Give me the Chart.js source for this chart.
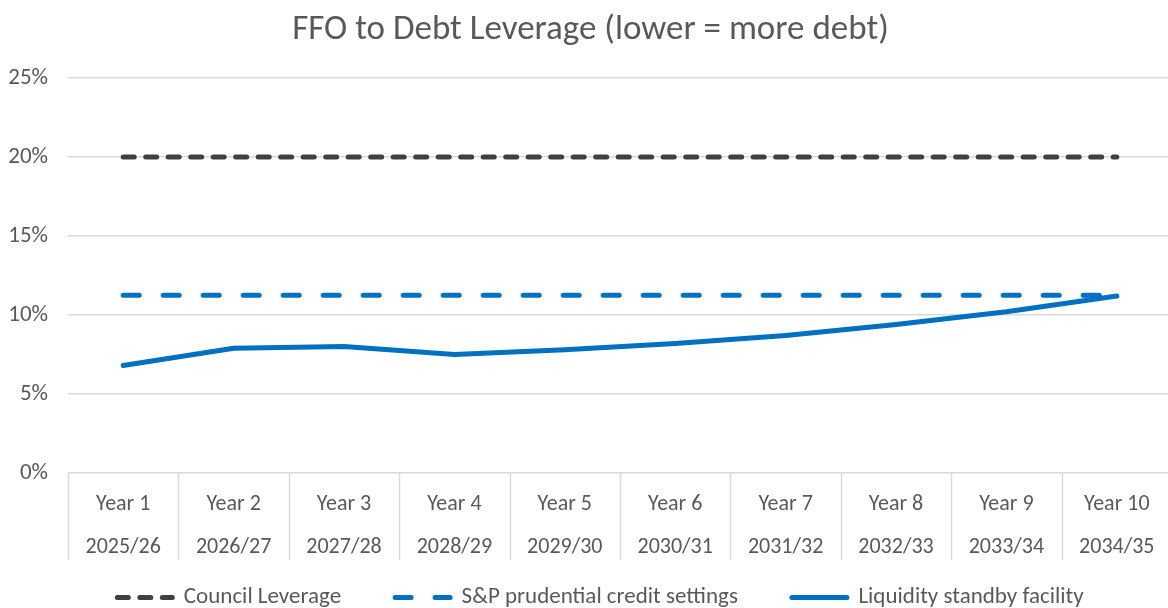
<!DOCTYPE html>
<html lang="en">
<head>
  <meta charset="UTF-8" />
  <title>FFO to Debt Leverage</title>
  <script src="https://cdn.jsdelivr.net/npm/chart.js"></script>
  <style>
    html, body { margin: 0; padding: 0; background: #fff; overflow: hidden; }
    .chart-container { width: 1195px; height: 608px; }
  </style>
</head>
<body>
  <div class="chart-container">
    <canvas id="lineChart"></canvas>
  </div>

  <script>
    const years = ["Year 1", "Year 2", "Year 3", "Year 4", "Year 5", "Year 6", "Year 7", "Year 8", "Year 9", "Year 10"];
    const periods = ["2025/26", "2026/27", "2027/28", "2028/29", "2029/30", "2030/31", "2031/32", "2032/33", "2033/34", "2034/35"];
    const councilLeverage = [20, 20, 20, 20, 20, 20, 20, 20, 20, 20];
    const spCreditSettings = [11.25, 11.25, 11.25, 11.25, 11.25, 11.25, 11.25, 11.25, 11.25, 11.25];
    const liquidityFacility = [6.8, 7.9, 8.0, 7.5, 7.8, 8.2, 8.7, 9.4, 10.2, 11.2];
    const yTicks = [0, 5, 10, 15, 20, 25];

    const font = "Carlito, Calibri, 'Open Sans', sans-serif";
    const grey = "#595959";
    const lineGrey = "#d9d9d9";

    // vertical separators between the two-row category labels (Excel style),
    // and the legend pulled up closer to the axis (its label padding also sets the item gaps)
    const categoryDividers = {
      id: "categoryDividers",
      afterLayout(chart) {
        chart.legend.top -= 28;
        chart.legend.bottom -= 28;
        chart.legend.left += 10;
        chart.legend.right += 10;
      },
      afterDraw(chart) {
        const x = chart.scales.x;
        const area = chart.chartArea;
        const c = chart.ctx;
        const half = (x.getPixelForValue(1) - x.getPixelForValue(0)) / 2;
        c.save();
        c.strokeStyle = lineGrey;
        c.lineWidth = 1.5;
        for (let i = 0; i <= years.length; i++) {
          const px = Math.round(x.getPixelForValue(i) - half) + 0.5;
          c.beginPath();
          c.moveTo(px, area.bottom);
          c.lineTo(px, area.bottom + 87);
          c.stroke();
        }
        c.restore();
      }
    };

    const ctx = document.getElementById("lineChart").getContext("2d");
    new Chart(ctx, {
      type: "line",
      data: {
        labels: years.map((y, i) => [y, periods[i]]),
        datasets: [
          {
            label: "Council Leverage",
            data: councilLeverage,
            borderColor: "#404040",
            backgroundColor: "#404040",
            borderWidth: 5,
            borderDash: [11, 11.5],
            borderCapStyle: "round",
            pointRadius: 0
          },
          {
            label: "S&P prudential credit settings",
            data: spCreditSettings,
            borderColor: "#0070C0",
            backgroundColor: "#0070C0",
            borderWidth: 5,
            borderDash: [16, 24],
            borderCapStyle: "round",
            pointRadius: 0
          },
          {
            label: "Liquidity standby facility",
            data: liquidityFacility,
            borderColor: "#0070C0",
            backgroundColor: "#0070C0",
            borderWidth: 5,
            borderCapStyle: "round",
            borderJoinStyle: "round",
            pointRadius: 0
          }
        ]
      },
      options: {
        responsive: true,
        maintainAspectRatio: false,
        animation: false,
        layout: { padding: { left: 9, right: 23, top: 9, bottom: -39 } },
        plugins: {
          title: {
            display: true,
            text: "FFO to Debt Leverage (lower = more debt)",
            color: grey,
            font: { family: font, size: 35, weight: "normal" },
            padding: { top: 0, bottom: 27 }
          },
          legend: {
            position: "bottom",
            labels: {
              color: grey,
              font: { family: font, size: 23 },
              usePointStyle: true,
              pointStyle: "line",
              pointStyleWidth: 55,
              padding: 54,
              generateLabels(chart) {
                return chart.data.datasets.map((ds, i) => ({
                  text: ds.label,
                  datasetIndex: i,
                  strokeStyle: ds.borderColor,
                  fillStyle: ds.borderColor,
                  lineWidth: 5,
                  lineDash: ds.borderDash || [],
                  lineCap: "round",
                  pointStyle: "line",
                  fontColor: grey
                }));
              }
            }
          },
          tooltip: { enabled: false }
        },
        scales: {
          x: {
            offset: true,
            grid: { display: false },
            border: { display: false },
            afterFit: (axis) => { axis.height = 87; },
            ticks: {
              color: grey,
              font: { family: font, size: 22, lineHeight: 1.95 },
              padding: 2,
              maxRotation: 0,
              autoSkip: false
            }
          },
          y: {
            min: 0,
            max: 25,
            afterBuildTicks: (axis) => { axis.ticks = yTicks.map(v => ({ value: v })); },
            afterFit: (axis) => { axis.width = 59; },
            grid: { color: lineGrey, lineWidth: 1.5, drawTicks: false },
            border: { display: false },
            ticks: {
              color: grey,
              font: { family: font, size: 23 },
              padding: 20,
              callback: (v) => v + "%"
            }
          }
        }
      },
      plugins: [categoryDividers]
    });
  </script>
</body>
</html>
